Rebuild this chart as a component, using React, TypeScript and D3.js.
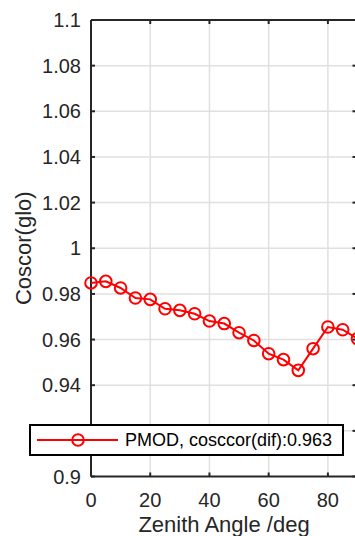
import React from "react";
import * as d3 from "d3";

// Zenith angle (deg) and cosine-correction factor for the global channel
const zenithAngles = [0, 5, 10, 15, 20, 25, 30, 35, 40, 45, 50, 55, 60, 65, 70, 75, 80, 85, 90];
const coscorGlo = [
  0.9848, 0.9855, 0.9826, 0.9782, 0.9776, 0.9735, 0.9728, 0.9713, 0.9681, 0.967,
  0.963, 0.9596, 0.9538, 0.9512, 0.9465, 0.956, 0.9655, 0.9643, 0.9604,
];
const xTicks = [0, 20, 40, 60, 80];
const yTicks = [0.9, 0.92, 0.94, 0.96, 0.98, 1, 1.02, 1.04, 1.06, 1.08, 1.1];
const seriesLabel = "PMOD, cosccor(dif):0.963";
const xLabel = "Zenith Angle /deg";
const yLabel = "Coscor(glo)";

const W = 355;
const H = 536;
const left = 91;
const right = 357.5;
const top = 20;
const bottom = 476.5;
const font = "Arial, 'Liberation Sans', Helvetica, sans-serif";
const axisColor = "#262626";
const red = "#ff0000";

export default function App() {
  const x = d3.scaleLinear().domain([0, 90]).range([left, right]);
  const y = d3.scaleLinear().domain([0.9, 1.1]).range([bottom, top]);
  const line = d3
    .line<number>()
    .x((_, i) => x(zenithAngles[i]))
    .y((d) => y(d));
  const tickLen = 4;

  return (
    <div style={{ position: "absolute", left: 0, top: 0, width: W, height: H, overflow: "hidden", background: "#fff" }}>
      <svg width={W} height={H} style={{ display: "block" }} fontFamily={font}>
        <rect x={0} y={0} width={W} height={H} fill="#fff" />
        {/* grid */}
        {xTicks.slice(1).map((t) => (
          <line key={"gx" + t} x1={x(t)} x2={x(t)} y1={top} y2={bottom} stroke="#e0e0e0" strokeWidth={1.5} />
        ))}
        {yTicks.slice(1, -1).map((t) => (
          <line key={"gy" + t} x1={left} x2={W} y1={y(t)} y2={y(t)} stroke="#e0e0e0" strokeWidth={1.5} />
        ))}
        {/* axes: the box's right edge lies just past the visible area */}
        <line x1={left} x2={W} y1={top} y2={top} stroke={axisColor} strokeWidth={2} />
        <line x1={left} x2={W} y1={bottom} y2={bottom} stroke={axisColor} strokeWidth={2} />
        <line x1={left} x2={left} y1={top} y2={bottom} stroke={axisColor} strokeWidth={2} />
        {/* ticks */}
        {xTicks.map((t) => (
          <g key={"tx" + t}>
            <line x1={x(t)} x2={x(t)} y1={bottom} y2={bottom - tickLen} stroke={axisColor} strokeWidth={2} />
            <line x1={x(t)} x2={x(t)} y1={top} y2={top + tickLen} stroke={axisColor} strokeWidth={2} />
            <text x={x(t)} y={507} fontSize={20} fill={axisColor} textAnchor="middle">
              {t}
            </text>
          </g>
        ))}
        {yTicks.map((t) => (
          <g key={"ty" + t}>
            <line x1={left} x2={left + tickLen} y1={y(t)} y2={y(t)} stroke={axisColor} strokeWidth={2} />
            <line x1={W} x2={W - 2.5} y1={y(t)} y2={y(t)} stroke={axisColor} strokeWidth={2} />
            <text x={81} y={y(t)} dy="0.35em" fontSize={20} fill={axisColor} textAnchor="end">
              {d3.format("~g")(t)}
            </text>
          </g>
        ))}
        {/* axis labels */}
        <text x={224} y={532} fontSize={22} fill={axisColor} textAnchor="middle">
          {xLabel}
        </text>
        <text
          transform={`translate(31, ${(top + bottom) / 2}) rotate(-90)`}
          fontSize={22}
          fill={axisColor}
          textAnchor="middle"
        >
          {yLabel}
        </text>
        {/* series */}
        <path d={line(coscorGlo) ?? ""} fill="none" stroke={red} strokeWidth={2} />
        {coscorGlo.map((v, i) => (
          <circle key={"m" + i} cx={x(zenithAngles[i])} cy={y(v)} r={5.8} fill="none" stroke={red} strokeWidth={2} />
        ))}
        {/* legend */}
        <rect x={30} y={425} width={313} height={30} fill="#fff" stroke="#000" strokeWidth={2} />
        <line x1={37} x2={118} y1={440} y2={440} stroke={red} strokeWidth={2} />
        <circle cx={78} cy={440} r={5.8} fill="none" stroke={red} strokeWidth={2} />
        <text x={125} y={440} dy="0.35em" fontSize={18} fill="#000">
          {seriesLabel}
        </text>
      </svg>
    </div>
  );
}
